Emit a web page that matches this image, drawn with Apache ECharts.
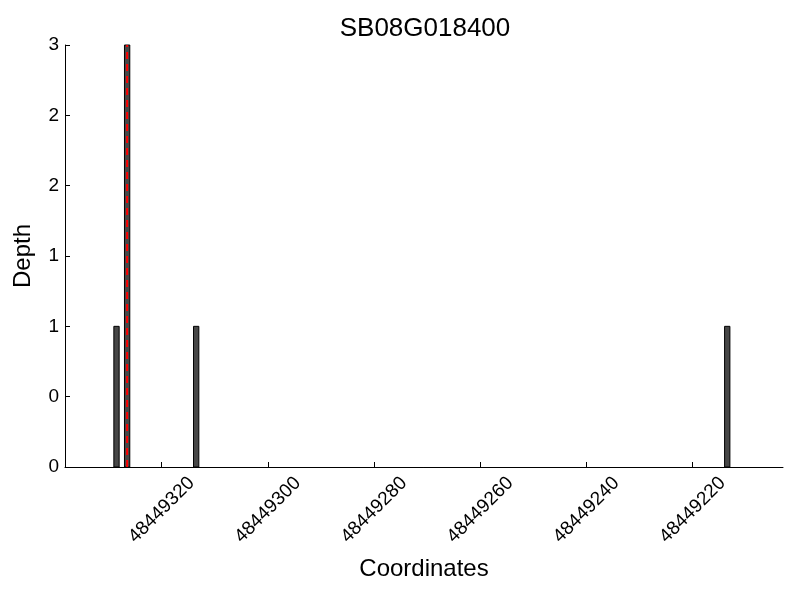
<!DOCTYPE html>
<html>
<head>
<meta charset="utf-8">
<script src="https://cdn.jsdelivr.net/npm/echarts@6/dist/echarts.min.js"></script>
<style>html,body{margin:0;padding:0;background:#fff;}#c{width:800px;height:600px;}</style>
</head>
<body>
<div id="c"></div>
<script>
// Data
var chartTitle = 'SB08G018400';
var positions = [48449328, 48449326, 48449313, 48449213];
var depths = [1, 3, 1, 1];
var markedPosition = 48449326;
var xTickValues = [48449320, 48449300, 48449280, 48449260, 48449240, 48449220];
var yTickValues = [0, 0.5, 1, 1.5, 2, 2.5, 3];
var yTickLabels = ['0', '0', '1', '1', '2', '2', '3'];
var xRange = [48449203, 48449338.2];
var yRange = [0, 3];

var FONT = 'Liberation Sans';
var barData = positions.map(function (p, i) { return [p, depths[i]]; });
var markLineData = [[markedPosition + 0.5, yRange[0]], [markedPosition + 0.5, yRange[1]]];

var chart = echarts.init(document.getElementById('c'), null, { renderer: 'canvas' });
chart.setOption({
  animation: false,
  backgroundColor: '#fff',
  title: {
    text: chartTitle,
    left: 420,
    top: 11,
    textAlign: 'center',
    textStyle: { fontFamily: FONT, fontSize: 26, fontWeight: 'normal', color: '#000' }
  },
  grid: { left: 65, right: 17, top: 45, bottom: 133 },
  xAxis: {
    type: 'value',
    inverse: true,
    min: xRange[0],
    max: xRange[1],
    name: 'Coordinates',
    nameLocation: 'middle',
    nameGap: 90,
    nameTextStyle: { fontFamily: FONT, fontSize: 24, color: '#000' },
    axisLine: { show: true, onZero: false, lineStyle: { color: '#000', width: 1 } },
    axisTick: { show: true, inside: true, length: 5, customValues: xTickValues, lineStyle: { color: '#000', width: 1 } },
    axisLabel: {
      customValues: xTickValues,
      rotate: 45,
      align: 'center',
      verticalAlign: 'middle',
      margin: 43,
      fontFamily: FONT,
      fontSize: 19,
      color: '#000',
      formatter: function (v) { return String(v); }
    },
    splitLine: { show: false }
  },
  yAxis: {
    type: 'value',
    min: yRange[0],
    max: yRange[1],
    name: 'Depth',
    nameLocation: 'middle',
    nameGap: 30,
    nameTextStyle: { fontFamily: FONT, fontSize: 24, color: '#000' },
    axisLine: { show: true, lineStyle: { color: '#000', width: 1 } },
    axisTick: { show: true, inside: true, length: 5, customValues: yTickValues, lineStyle: { color: '#000', width: 1 } },
    axisLabel: {
      customValues: yTickValues,
      margin: 6,
      fontFamily: FONT,
      fontSize: 19,
      color: '#000',
      formatter: function (v) {
        var idx = yTickValues.indexOf(v);
        return idx >= 0 ? yTickLabels[idx] : '';
      }
    },
    splitLine: { show: false }
  },
  series: [
    {
      type: 'custom',
      data: barData,
      renderItem: function (params, api) {
        var x = api.value(0), h = api.value(1);
        var p1 = api.coord([x, 0]);
        var p2 = api.coord([x + 1, h]);
        var left = Math.min(p1[0], p2[0]);
        var w = Math.abs(p2[0] - p1[0]);
        return {
          type: 'rect',
          shape: { x: left, y: p2[1], width: w, height: p1[1] - p2[1] },
          style: { fill: '#474747', stroke: '#000', lineWidth: 1 }
        };
      },
      z: 2
    },
    {
      type: 'line',
      data: markLineData,
      symbol: 'none',
      lineStyle: { color: '#ff0000', width: 2, type: [7, 5] },
      z: 3
    }
  ]
});
</script>
</body>
</html>
